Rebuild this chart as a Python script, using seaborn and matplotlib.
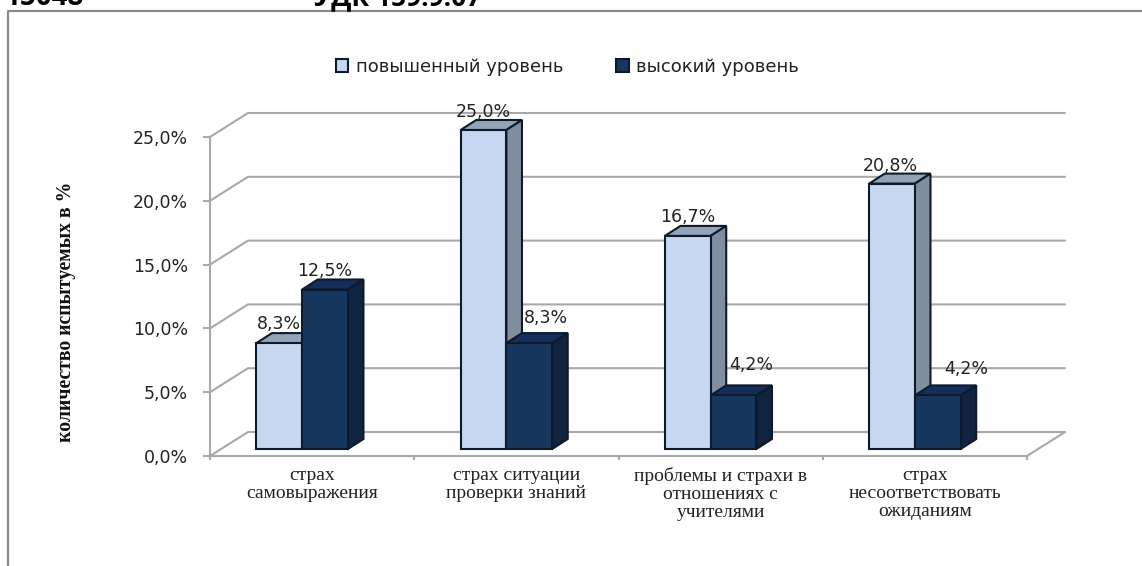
import pandas as pd
import seaborn as sns
import matplotlib.pyplot as plt
from matplotlib.lines import Line2D
from matplotlib.patches import Polygon
from matplotlib.transforms import Affine2D, IdentityTransform

categories = ['страх\nсамовыражения', 'страх ситуации\nпроверки знаний',
              'проблемы и страхи в\nотношениях с\nучителями',
              'страх\nнесоответствовать\nожиданиям']
raised = [8.3, 25.0, 16.7, 20.8]
high = [12.5, 8.3, 4.2, 4.2]
series_names = ['повышенный уровень', 'высокий уровень']
yticks = [0, 5, 10, 15, 20, 25]

# pixel nudges of the value labels, they sit by hand in the original
raised_nudge = [(0, 19), (0, 18), (0, 19), (-2, 18)]
high_nudge = [(0, 19), (17, 25), (18, 30), (28, 26)]

W, H = 1142, 566
GRID = '#a8a8a8'
LIGHT, DARK = '#c5d8ef', '#17375e'
LIGHT_TOP, LIGHT_SIDE = '#93a4b8', '#7f8fa0'
DARK_TOP, DARK_SIDE = '#14305a', '#10233f'
EDGE = '#0e1a2b'

sns.set_style('white')
plt.rcParams['font.family'] = 'DejaVu Sans'

df = pd.DataFrame({
    'cat': categories * 2,
    'val': raised + high,
    'level': [series_names[0]] * 4 + [series_names[1]] * 4,
})

fig = plt.figure(figsize=(W / 100, H / 100), dpi=100)
ax = fig.add_axes([210 / W, (H - 456) / H, (1027 - 210) / W, (456 - 137) / H])
sns.barplot(data=df, x='cat', y='val', hue='level', hue_order=series_names,
            palette=[LIGHT, DARK], saturation=1, width=0.448, gap=0,
            edgecolor=EDGE, linewidth=1.5, ax=ax)
ax.set_xlim(-0.5, 3.5)
ax.set_ylim(0, 25)
ax.set_xlabel('')
ax.set_ylabel('количество испытуемых в %', family='Liberation Serif',
              weight='bold', fontsize=14.2, color='#111111')
ax.yaxis.set_label_coords(76 / W, (H - 312) / H, transform=fig.transFigure)

for s in ['top', 'right']:
    ax.spines[s].set_visible(False)
for s in ['left', 'bottom']:
    ax.spines[s].set_color(GRID)
    ax.spines[s].set_linewidth(1.5)

ax.set_yticks(yticks)
ax.set_yticklabels([f'{t:.1f}%'.replace('.', ',') for t in yticks], fontsize=12.5, color='#222222')
ax.tick_params(axis='y', length=5, width=1.5, color=GRID, pad=11, left=True)
ax.set_xticks(range(4))
ax.set_xticklabels(categories, family='Liberation Serif', fontsize=14, color='#222222',
                   linespacing=1.08)
ax.set_xticks([-0.5, 0.5, 1.5, 2.5, 3.5], minor=True)
ax.tick_params(axis='x', which='major', length=0, pad=8)
ax.tick_params(axis='x', which='minor', length=3, width=1.5, color=GRID, bottom=True)

# back wall and floor, worked out in pixels from the data scale
fig.canvas.draw()
to_px = ax.transData.transform
px = IdentityTransform()
WALL_X, WALL_Y = 38, 24
x_left, x_right = to_px((-0.5, 0))[0], to_px((3.5, 0))[0]
for t in yticks:
    y = to_px((0, t))[1]
    ax.add_line(Line2D([x_left, x_left + WALL_X, x_right + WALL_X],
                       [y, y + WALL_Y, y + WALL_Y], transform=px, color=GRID,
                       lw=1.5, clip_on=False, zorder=1))
y0 = to_px((0, 0))[1]
ax.add_line(Line2D([x_right, x_right + WALL_X], [y0, y0 + WALL_Y], transform=px,
                   color=GRID, lw=1.5, clip_on=False, zorder=1))

# bars get a fake 3d look: moved off the axis, with a top and a side face
BAR_DX, BAR_DY = -10, 7
DEPTH_X, DEPTH_Y = 15.6, 10
faces = [(LIGHT_TOP, LIGHT_SIDE), (DARK_TOP, DARK_SIDE)]
nudges = [raised_nudge, high_nudge]
for i, container in enumerate(ax.containers):
    top_c, side_c = faces[i]
    for j, bar in enumerate(container):
        (x0, yb), (x1, yt) = to_px([(bar.get_x(), 0),
                                    (bar.get_x() + bar.get_width(), bar.get_height())])
        x0, x1, yb, yt = x0 + BAR_DX, x1 + BAR_DX, yb + BAR_DY, yt + BAR_DY
        bar.set_transform(ax.transData + Affine2D().translate(BAR_DX, BAR_DY))
        bar.set_zorder(5 + i)
        bar.set_clip_on(False)
        top = [(x0, yt), (x1, yt), (x1 + DEPTH_X, yt + DEPTH_Y), (x0 + DEPTH_X, yt + DEPTH_Y)]
        side = [(x1, yb), (x1, yt), (x1 + DEPTH_X, yt + DEPTH_Y), (x1 + DEPTH_X, yb + DEPTH_Y)]
        for pts, c in [(top, top_c), (side, side_c)]:
            ax.add_patch(Polygon(pts, closed=True, facecolor=c, edgecolor=EDGE, lw=1.5,
                                 transform=px, clip_on=False, zorder=4.5 + i))
        nx, ny = nudges[i][j]
        ax.text((x0 + x1) / 2 + nx, yt + ny, f'{bar.get_height():.1f}%'.replace('.', ','),
                transform=px, ha='center', va='center', fontsize=12.5, color='#222222', zorder=10)

ax.legend(loc='center', bbox_to_anchor=(567.5 / W, (H - 67) / H),
          bbox_transform=fig.transFigure, ncols=2, frameon=False, fontsize=13,
          handlelength=0.7, handleheight=0.7, handletextpad=0.4, columnspacing=2.95,
          labelcolor='#222222')

# scan leftovers: page frame and the cut-off header line
fig.add_artist(Line2D([8 / W, 8 / W, 1], [0, (H - 11) / H, (H - 11) / H], color='#8a8a8a', lw=1.6))
fig.text(4 / W, (H - 5) / H, '15048', family='Open Sans', weight='bold', fontsize=20, color='black')
fig.text(314 / W, (H - 5) / H, 'УДК 159.9.07', family='Open Sans', weight='bold', fontsize=19, color='black')

fig.savefig('out.png', dpi=100)
